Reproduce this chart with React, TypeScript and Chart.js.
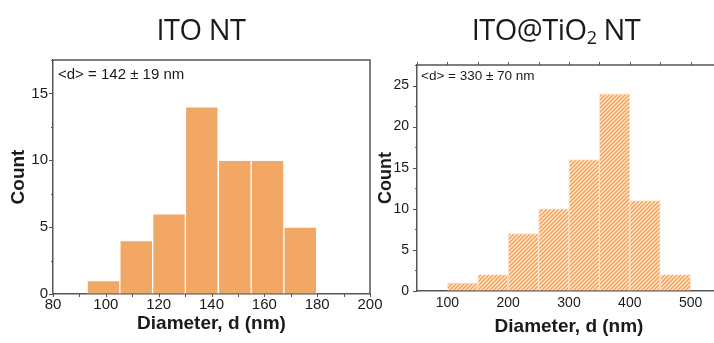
import React, { useEffect, useRef } from "react";
import { Chart, registerables } from "chart.js";

Chart.register(...registerables);

// ITO NT diameter histogram (nm)
const itoBinStarts = [92.9, 105.3, 117.7, 130.1, 142.6, 155.0, 167.4];
const itoBinWidth = 12.43;
const itoCounts = [1, 4, 6, 14, 10, 10, 5];
const itoXRange = [80, 200];
const itoXLabelStep = 20;
const itoXMinorStep = 10;
const itoYMax = 17.5;
const itoNote = "<d> = 142 ± 19 nm";

// ITO@TiO2 NT diameter histogram (nm)
const tiBinStarts = [100, 150, 200, 250, 300, 350, 400, 450];
const tiBinWidth = 50;
const tiCounts = [1, 2, 7, 10, 16, 24, 11, 2];
const tiXRange = [50, 550];
const tiXLabelStep = 100;
const tiXMinorStep = 50;
const tiYMax = 27.5;
const tiNote = "<d> = 330 ± 70 nm";

const yLabelStep = 5;
const yMinorStep = 2.5;

const ORANGE = "#F3A765";
const AXIS = "#555555";
const TEXT = "#1a1a1a";
const SANS = "'Liberation Sans', Arial, sans-serif";

type Panel = {
  starts: number[];
  width: number;
  counts: number[];
  xRange: number[];
  xLabelStep: number;
  xTickStep: number;
  xMinorStep: number;
  yMax: number;
  note: string;
  noteSize: number;
  noteDx: number;
  noteDy: number;
  fill: string | CanvasPattern;
  edge: string;
  tickSize: number;
  titleSize: number;
  pad: { top: number; right: number };
  yWidth: number;
  xHeight: number;
  yTickPad: number;
  xTickPad: number;
  yTitlePad: number;
  xTitlePad: number;
  bottomTicks: boolean;
  topTicks: boolean;
};

const near = (v: number, step: number) =>
  Math.abs(v / step - Math.round(v / step)) < 1e-6;

// Frame box, outward tick marks and the mean-diameter note
const framePlugin = {
  id: "frameTicks",
  afterDraw(chart: any, _args: any, opts: any) {
    const { ctx, chartArea: a, scales } = chart;
    const xs = scales.x;
    const ys = scales.y;
    ctx.save();
    ctx.strokeStyle = AXIS;
    ctx.lineWidth = 1.5;
    ctx.beginPath();
    ctx.moveTo(a.left, a.top);
    ctx.lineTo(a.right, a.top);
    ctx.lineTo(a.right, a.bottom);
    ctx.stroke();

    ctx.lineWidth = 1;
    ctx.beginPath();
    for (let v = 0; v <= ys.max + 1e-9; v += yMinorStep) {
      const py = Math.round(ys.getPixelForValue(v)) + 0.5;
      const len = near(v, yLabelStep) ? 4 : 2;
      ctx.moveTo(a.left - len, py);
      ctx.lineTo(a.left, py);
    }
    for (let v = xs.min; v <= xs.max + 1e-9; v += opts.xMinorStep) {
      const px = Math.round(xs.getPixelForValue(v)) + 0.5;
      if (opts.bottomTicks) {
        ctx.moveTo(px, a.bottom);
        ctx.lineTo(px, a.bottom + 3);
      }
      if (opts.topTicks) {
        ctx.moveTo(px, a.top);
        ctx.lineTo(px, a.top - 3);
      }
    }
    ctx.stroke();

    ctx.fillStyle = TEXT;
    ctx.font = `${opts.noteSize}px ${SANS}`;
    ctx.textAlign = "left";
    ctx.textBaseline = "middle";
    ctx.fillText(opts.note, a.left + opts.noteDx, a.top + opts.noteDy);
    ctx.restore();
  },
};

function hatch(bg: string, line: string): CanvasPattern {
  const c = document.createElement("canvas");
  c.width = 4;
  c.height = 4;
  const g = c.getContext("2d")!;
  g.fillStyle = bg;
  g.fillRect(0, 0, 4, 4);
  g.strokeStyle = line;
  g.lineWidth = 1.1;
  g.beginPath();
  g.moveTo(0, 4);
  g.lineTo(4, 0);
  g.moveTo(-1, 1);
  g.lineTo(1, -1);
  g.moveTo(3, 5);
  g.lineTo(5, 3);
  g.stroke();
  return g.createPattern(c, "repeat")!;
}

function makeChart(canvas: HTMLCanvasElement, p: Panel) {
  const data = p.starts.map((s, i) => ({ x: s + p.width / 2, y: p.counts[i] }));
  return new Chart(canvas, {
    type: "bar",
    data: {
      datasets: [
        {
          data,
          backgroundColor: p.fill,
          borderColor: p.edge,
          borderWidth: 1,
          barPercentage: 1,
          categoryPercentage: 1,
        } as any,
      ],
    },
    options: {
      responsive: false,
      animation: false,
      devicePixelRatio: 1,
      layout: { padding: { top: p.pad.top, right: p.pad.right, left: 0, bottom: 0 } },
      plugins: {
        legend: { display: false },
        tooltip: { enabled: false },
        frameTicks: {
          xMinorStep: p.xMinorStep,
          bottomTicks: p.bottomTicks,
          topTicks: p.topTicks,
          note: p.note,
          noteSize: p.noteSize,
          noteDx: p.noteDx,
          noteDy: p.noteDy,
        },
      } as any,
      scales: {
        x: {
          type: "linear",
          offset: false,
          min: p.xRange[0],
          max: p.xRange[1],
          afterFit: (s: any) => {
            s.height = p.xHeight;
          },
          ticks: {
            stepSize: p.xTickStep,
            autoSkip: false,
            maxRotation: 0,
            padding: p.xTickPad,
            color: TEXT,
            font: { family: SANS, size: p.tickSize },
            callback: (v: any) => (near(Number(v), p.xLabelStep) ? String(v) : ""),
          },
          grid: { drawOnChartArea: false, drawTicks: false, offset: false },
          border: { display: true, color: AXIS, width: 1.5 },
          title: {
            display: true,
            text: "Diameter, d (nm)",
            color: TEXT,
            font: { family: SANS, size: 19, weight: "bold" },
            padding: { top: 0, bottom: p.xTitlePad },
          },
        },
        y: {
          type: "linear",
          min: 0,
          max: p.yMax,
          afterFit: (s: any) => {
            s.width = p.yWidth;
          },
          ticks: {
            stepSize: yLabelStep,
            autoSkip: false,
            padding: p.yTickPad,
            color: TEXT,
            font: { family: SANS, size: p.tickSize },
            callback: (v: any) => (near(Number(v), yLabelStep) ? String(v) : ""),
          },
          grid: { drawOnChartArea: false, drawTicks: false },
          border: { display: true, color: AXIS, width: 1.5 },
          title: {
            display: true,
            text: "Count",
            color: TEXT,
            font: { family: SANS, size: p.titleSize, weight: "bold" },
            padding: { top: p.yTitlePad, bottom: 0 },
          },
        },
      },
    },
    plugins: [framePlugin],
  });
}

export default function App() {
  const leftRef = useRef<HTMLCanvasElement>(null);
  const rightRef = useRef<HTMLCanvasElement>(null);

  useEffect(() => {
    const left = makeChart(leftRef.current!, {
      starts: itoBinStarts,
      width: itoBinWidth,
      counts: itoCounts,
      xRange: itoXRange,
      xLabelStep: itoXLabelStep,
      xTickStep: itoXLabelStep,
      xMinorStep: itoXMinorStep,
      yMax: itoYMax,
      note: itoNote,
      noteSize: 15,
      noteDx: 5,
      noteDy: 15,
      fill: ORANGE,
      edge: "#ffffff",
      tickSize: 15,
      titleSize: 19,
      pad: { top: 60, right: 25 },
      yWidth: 53,
      xHeight: 49,
      yTickPad: 5,
      xTickPad: 2,
      yTitlePad: 7,
      xTitlePad: 8,
      bottomTicks: true,
      topTicks: false,
    });
    const right = makeChart(rightRef.current!, {
      starts: tiBinStarts,
      width: tiBinWidth,
      counts: tiCounts,
      xRange: tiXRange,
      xLabelStep: tiXLabelStep,
      xTickStep: tiXMinorStep,
      xMinorStep: tiXMinorStep,
      yMax: tiYMax,
      note: tiNote,
      noteSize: 13.5,
      noteDx: 4,
      noteDy: 11,
      fill: hatch(ORANGE, "rgba(255,255,255,0.9)"),
      edge: "#FCE4D0",
      tickSize: 14,
      titleSize: 18,
      pad: { top: 65, right: 9 },
      yWidth: 55,
      xHeight: 52,
      yTickPad: 8,
      xTickPad: 4,
      yTitlePad: 13,
      xTitlePad: 5,
      bottomTicks: false,
      topTicks: true,
    });
    return () => {
      left.destroy();
      right.destroy();
    };
  }, []);

  const titleStyle: React.CSSProperties = {
    position: "absolute",
    top: 14,
    fontFamily: "'Open Sans', sans-serif",
    fontSize: 29,
    lineHeight: "29px",
    letterSpacing: "-0.5px",
    color: TEXT,
    textAlign: "center",
    whiteSpace: "nowrap",
  };

  return (
    <div
      style={{
        position: "absolute",
        left: 0,
        top: 0,
        width: 714,
        height: 343,
        overflow: "hidden",
        background: "#ffffff",
      }}
    >
      <canvas
        ref={leftRef}
        width={395}
        height={343}
        style={{ position: "absolute", left: 0, top: 0 }}
      />
      <canvas
        ref={rightRef}
        width={368}
        height={343}
        style={{ position: "absolute", left: 362, top: 0 }}
      />
      <div style={{ ...titleStyle, left: 101, width: 200 }}>ITO NT</div>
      <div style={{ ...titleStyle, left: 456, width: 200 }}>
        ITO@TiO
        <span style={{ fontSize: 18, position: "relative", top: 4 }}>2</span> NT
      </div>
    </div>
  );
}
